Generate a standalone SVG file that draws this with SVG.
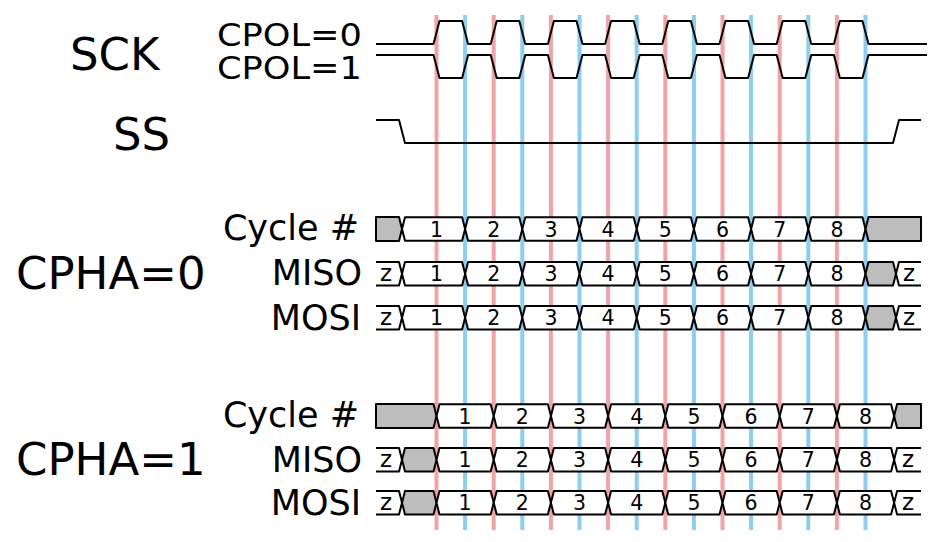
<svg xmlns="http://www.w3.org/2000/svg" xmlns:xlink="http://www.w3.org/1999/xlink" width="940" height="542" viewBox="0 0 940 542">
<style>
text{font-family:"DejaVu Sans","Liberation Sans",sans-serif;fill:#000}
.big{font-size:45px}
.pol{font-size:32px}
.lab{font-size:35px;text-anchor:end}
.num{font-size:20.5px;text-anchor:middle}
.z{font-size:23px;text-anchor:middle}
.r{stroke:#f2a3a3;stroke-width:4}
.b{stroke:#8dcdee;stroke-width:4}
.w{fill:none;stroke:#000;stroke-width:2;stroke-linejoin:round}
.seg{fill:#fff;stroke:#000;stroke-width:2;stroke-linejoin:round}
.g{fill:#bdbdbd;stroke:#000;stroke-width:2;stroke-linejoin:round}
</style>
<defs>
<polygon id="s57" points="0,11.75 3,0 54.2,0 57.2,11.75 54.2,23.5 3,23.5"/>
<polygon id="s63" points="0,11.75 3,0 60.1,0 63.1,11.75 60.1,23.5 3,23.5"/>
</defs>
<rect width="940" height="542" fill="#fff"/>
<g id="guides">
<line class="r" x1="436.5" y1="15" x2="436.5" y2="530"/>
<line class="r" x1="493.7" y1="15" x2="493.7" y2="530"/>
<line class="r" x1="550.9" y1="15" x2="550.9" y2="530"/>
<line class="r" x1="608.1" y1="15" x2="608.1" y2="530"/>
<line class="r" x1="665.3" y1="15" x2="665.3" y2="530"/>
<line class="r" x1="722.5" y1="15" x2="722.5" y2="530"/>
<line class="r" x1="779.7" y1="15" x2="779.7" y2="530"/>
<line class="r" x1="836.9" y1="15" x2="836.9" y2="530"/>
<line class="b" x1="465.1" y1="15" x2="465.1" y2="530"/>
<line class="b" x1="522.3" y1="15" x2="522.3" y2="530"/>
<line class="b" x1="579.5" y1="15" x2="579.5" y2="530"/>
<line class="b" x1="636.7" y1="15" x2="636.7" y2="530"/>
<line class="b" x1="693.9" y1="15" x2="693.9" y2="530"/>
<line class="b" x1="751.1" y1="15" x2="751.1" y2="530"/>
<line class="b" x1="808.3" y1="15" x2="808.3" y2="530"/>
<line class="b" x1="865.5" y1="15" x2="865.5" y2="530"/>
</g>
<g id="labels">
<text class="big" x="70" y="70">SCK</text>
<text class="pol" x="217" y="46" textLength="145" lengthAdjust="spacingAndGlyphs">CPOL=0</text>
<text class="pol" x="217" y="79" textLength="145" lengthAdjust="spacingAndGlyphs">CPOL=1</text>
<text class="big" x="113" y="150">SS</text>
<text class="big" x="16" y="289">CPHA=0</text>
<text class="big" x="16" y="475">CPHA=1</text>
<text class="lab" x="359" y="240">Cycle #</text>
<text class="lab" x="362" y="285">MISO</text>
<text class="lab" x="361" y="330">MOSI</text>
<text class="lab" x="359" y="427">Cycle #</text>
<text class="lab" x="362" y="472">MISO</text>
<text class="lab" x="361" y="515">MOSI</text>
</g>
<g id="sck">
<path class="w" d="M376,44 H433.5 L439.5,21 H462.1 L468.1,44 H490.7 L496.7,21 H519.3 L525.3,44 H547.9 L553.9,21 H576.5 L582.5,44 H605.1 L611.1,21 H633.7 L639.7,44 H662.3 L668.3,21 H690.9 L696.9,44 H719.5 L725.5,21 H748.1 L754.1,44 H776.7 L782.7,21 H805.3 L811.3,44 H833.9 L839.9,21 H862.5 L868.5,44 H927"/>
<path class="w" d="M376,55 H433.5 L439.5,78 H462.1 L468.1,55 H490.7 L496.7,78 H519.3 L525.3,55 H547.9 L553.9,78 H576.5 L582.5,55 H605.1 L611.1,78 H633.7 L639.7,55 H662.3 L668.3,78 H690.9 L696.9,55 H719.5 L725.5,78 H748.1 L754.1,55 H776.7 L782.7,78 H805.3 L811.3,55 H833.9 L839.9,78 H862.5 L868.5,55 H927"/>
</g>
<g id="ss">
<path class="w" d="M376,120 H399 L405,143 H893 L899,120 H921"/>
</g>
<g id="cpha0-cycle">
<polygon class="g" points="376,217 399,217 402,229 399,241 376,241"/>
<use xlink:href="#s63" class="seg" x="402" y="217.25"/>
<use xlink:href="#s57" class="seg" x="465.1" y="217.25"/>
<use xlink:href="#s57" class="seg" x="522.3" y="217.25"/>
<use xlink:href="#s57" class="seg" x="579.5" y="217.25"/>
<use xlink:href="#s57" class="seg" x="636.7" y="217.25"/>
<use xlink:href="#s57" class="seg" x="693.9" y="217.25"/>
<use xlink:href="#s57" class="seg" x="751.1" y="217.25"/>
<use xlink:href="#s57" class="seg" x="808.3" y="217.25"/>
<polygon class="g" points="865.5,229 868.5,217 921,217 921,241 868.5,241"/>
<text class="num" x="436.5" y="237">1</text><text class="num" x="493.7" y="237">2</text><text class="num" x="550.9" y="237">3</text><text class="num" x="608.1" y="237">4</text><text class="num" x="665.3" y="237">5</text><text class="num" x="722.5" y="237">6</text><text class="num" x="779.7" y="237">7</text><text class="num" x="836.9" y="237">8</text>
</g>
<g id="cpha0-miso">
<polyline class="w" points="376,262 399,262 402,273.75 399,285.5 376,285.5"/>
<use xlink:href="#s63" class="seg" x="402" y="262"/>
<use xlink:href="#s57" class="seg" x="465.1" y="262"/>
<use xlink:href="#s57" class="seg" x="522.3" y="262"/>
<use xlink:href="#s57" class="seg" x="579.5" y="262"/>
<use xlink:href="#s57" class="seg" x="636.7" y="262"/>
<use xlink:href="#s57" class="seg" x="693.9" y="262"/>
<use xlink:href="#s57" class="seg" x="751.1" y="262"/>
<use xlink:href="#s57" class="seg" x="808.3" y="262"/>
<polygon class="g" points="865.5,273.75 868.5,262 893,262 896,273.75 893,285.5 868.5,285.5"/>
<polyline class="w" points="921,262 899,262 896,273.75 899,285.5 921,285.5"/>
<text class="z" x="386" y="280.5">z</text><text class="z" x="909" y="280.5">z</text>
<text class="num" x="436.5" y="281">1</text><text class="num" x="493.7" y="281">2</text><text class="num" x="550.9" y="281">3</text><text class="num" x="608.1" y="281">4</text><text class="num" x="665.3" y="281">5</text><text class="num" x="722.5" y="281">6</text><text class="num" x="779.7" y="281">7</text><text class="num" x="836.9" y="281">8</text>
</g>
<g id="cpha0-mosi">
<polyline class="w" points="376,306 399,306 402,317.75 399,329.5 376,329.5"/>
<use xlink:href="#s63" class="seg" x="402" y="306"/>
<use xlink:href="#s57" class="seg" x="465.1" y="306"/>
<use xlink:href="#s57" class="seg" x="522.3" y="306"/>
<use xlink:href="#s57" class="seg" x="579.5" y="306"/>
<use xlink:href="#s57" class="seg" x="636.7" y="306"/>
<use xlink:href="#s57" class="seg" x="693.9" y="306"/>
<use xlink:href="#s57" class="seg" x="751.1" y="306"/>
<use xlink:href="#s57" class="seg" x="808.3" y="306"/>
<polygon class="g" points="865.5,317.75 868.5,306 893,306 896,317.75 893,329.5 868.5,329.5"/>
<polyline class="w" points="921,306 899,306 896,317.75 899,329.5 921,329.5"/>
<text class="z" x="386" y="324.5">z</text><text class="z" x="909" y="324.5">z</text>
<text class="num" x="436.5" y="325">1</text><text class="num" x="493.7" y="325">2</text><text class="num" x="550.9" y="325">3</text><text class="num" x="608.1" y="325">4</text><text class="num" x="665.3" y="325">5</text><text class="num" x="722.5" y="325">6</text><text class="num" x="779.7" y="325">7</text><text class="num" x="836.9" y="325">8</text>
</g>
<g id="cpha1-cycle">
<polygon class="g" points="376,404 433.5,404 436.5,416 433.5,428 376,428"/>
<use xlink:href="#s57" class="seg" x="436.5" y="404.25"/>
<use xlink:href="#s57" class="seg" x="493.7" y="404.25"/>
<use xlink:href="#s57" class="seg" x="550.9" y="404.25"/>
<use xlink:href="#s57" class="seg" x="608.1" y="404.25"/>
<use xlink:href="#s57" class="seg" x="665.3" y="404.25"/>
<use xlink:href="#s57" class="seg" x="722.5" y="404.25"/>
<use xlink:href="#s57" class="seg" x="779.7" y="404.25"/>
<use xlink:href="#s57" class="seg" x="836.9" y="404.25"/>
<polygon class="g" points="894.1,416 897.1,404 921,404 921,428 897.1,428"/>
<text class="num" x="465.1" y="424">1</text><text class="num" x="522.3" y="424">2</text><text class="num" x="579.5" y="424">3</text><text class="num" x="636.7" y="424">4</text><text class="num" x="693.9" y="424">5</text><text class="num" x="751.1" y="424">6</text><text class="num" x="808.3" y="424">7</text><text class="num" x="865.5" y="424">8</text>
</g>
<g id="cpha1-miso">
<polyline class="w" points="376,448 399,448 402,459.75 399,471.5 376,471.5"/>
<polygon class="g" points="402,459.75 405,448 433.5,448 436.5,459.75 433.5,471.5 405,471.5"/>
<use xlink:href="#s57" class="seg" x="436.5" y="448"/>
<use xlink:href="#s57" class="seg" x="493.7" y="448"/>
<use xlink:href="#s57" class="seg" x="550.9" y="448"/>
<use xlink:href="#s57" class="seg" x="608.1" y="448"/>
<use xlink:href="#s57" class="seg" x="665.3" y="448"/>
<use xlink:href="#s57" class="seg" x="722.5" y="448"/>
<use xlink:href="#s57" class="seg" x="779.7" y="448"/>
<use xlink:href="#s57" class="seg" x="836.9" y="448"/>
<polyline class="w" points="921,448 897.1,448 894.1,459.75 897.1,471.5 921,471.5"/>
<text class="z" x="386" y="466.5">z</text><text class="z" x="908" y="466.5">z</text>
<text class="num" x="465.1" y="467">1</text><text class="num" x="522.3" y="467">2</text><text class="num" x="579.5" y="467">3</text><text class="num" x="636.7" y="467">4</text><text class="num" x="693.9" y="467">5</text><text class="num" x="751.1" y="467">6</text><text class="num" x="808.3" y="467">7</text><text class="num" x="865.5" y="467">8</text>
</g>
<g id="cpha1-mosi">
<polyline class="w" points="376,491 399,491 402,502.75 399,514.5 376,514.5"/>
<polygon class="g" points="402,502.75 405,491 433.5,491 436.5,502.75 433.5,514.5 405,514.5"/>
<use xlink:href="#s57" class="seg" x="436.5" y="491"/>
<use xlink:href="#s57" class="seg" x="493.7" y="491"/>
<use xlink:href="#s57" class="seg" x="550.9" y="491"/>
<use xlink:href="#s57" class="seg" x="608.1" y="491"/>
<use xlink:href="#s57" class="seg" x="665.3" y="491"/>
<use xlink:href="#s57" class="seg" x="722.5" y="491"/>
<use xlink:href="#s57" class="seg" x="779.7" y="491"/>
<use xlink:href="#s57" class="seg" x="836.9" y="491"/>
<polyline class="w" points="921,491 897.1,491 894.1,502.75 897.1,514.5 921,514.5"/>
<text class="z" x="386" y="509.5">z</text><text class="z" x="908" y="509.5">z</text>
<text class="num" x="465.1" y="510">1</text><text class="num" x="522.3" y="510">2</text><text class="num" x="579.5" y="510">3</text><text class="num" x="636.7" y="510">4</text><text class="num" x="693.9" y="510">5</text><text class="num" x="751.1" y="510">6</text><text class="num" x="808.3" y="510">7</text><text class="num" x="865.5" y="510">8</text>
</g>
</svg>
